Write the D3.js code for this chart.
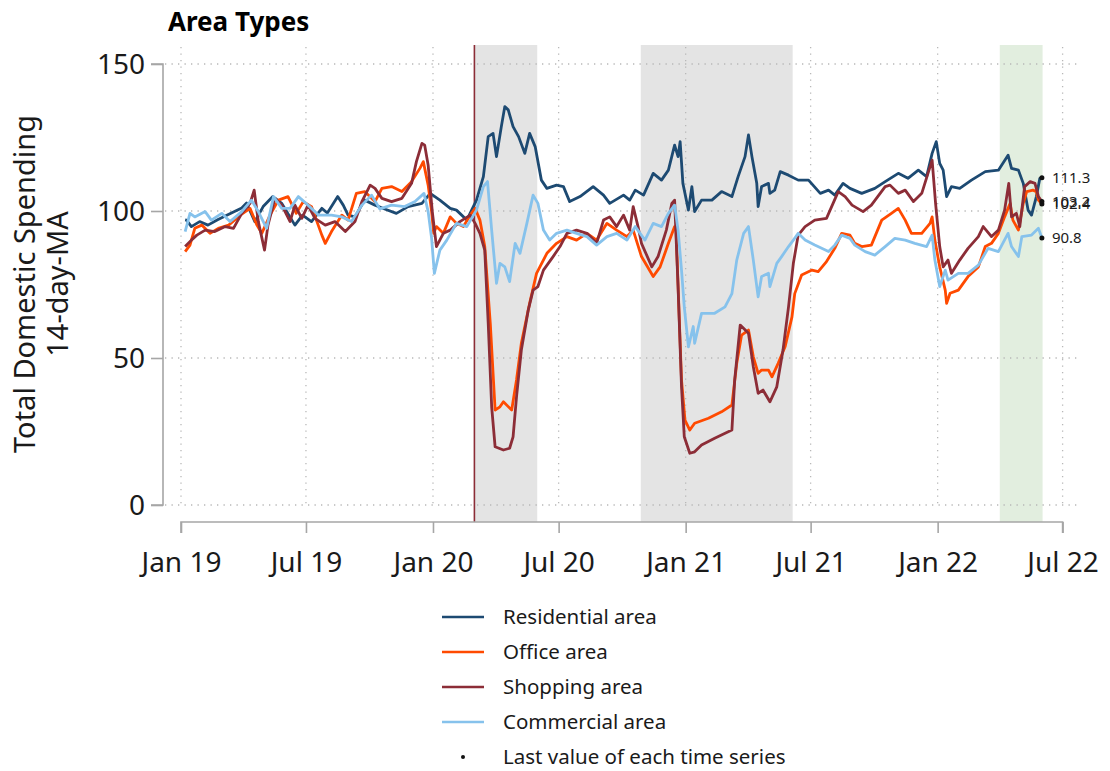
<!DOCTYPE html>
<html>
<head>
<meta charset="utf-8">
<script src="https://cdn.jsdelivr.net/npm/d3@7"></script>
<style>
  html, body { margin: 0; padding: 0; background: #fff; }
  svg { display: block; font-family: "Noto Sans", "Open Sans", sans-serif; }
</style>
</head>
<body>
<svg id="chart" width="1110" height="771"></svg>
<script>
// Total domestic spending by area type, 14-day moving average (index)
const seriesNames = ["Residential area", "Office area", "Shopping area", "Commercial area"];
const seriesColors = ["#1d4a72", "#ff4a00", "#8c2d37", "#86c2ec"];

const residential = [
  ["2019-01-07",97.0],["2019-01-09",96.9],["2019-01-16",94.7],["2019-01-28",96.4],["2019-02-09",95.2],["2019-02-23",97.0],
  ["2019-03-15",99.3],["2019-03-30",101.0],["2019-04-06",102.7],["2019-04-18",96.4],["2019-04-30",101.5],["2019-05-14",104.9],
  ["2019-05-27",102.6],["2019-06-15",95.2],["2019-06-26",98.6],["2019-07-09",96.4],["2019-07-24",100.9],["2019-08-01",99.3],
  ["2019-08-16",104.9],["2019-08-24",102.0],["2019-08-31",98.6],["2019-09-10",98.0],["2019-09-24",103.7],["2019-10-09",102.0],
  ["2019-10-23",100.7],["2019-11-09",99.2],["2019-11-26",101.5],["2019-12-16",102.6],["2019-12-28",106.0],["2020-01-11",103.7],
  ["2020-01-26",100.9],["2020-02-04",100.3],["2020-02-19",96.9],["2020-03-04",103.7],["2020-03-14",111.7],["2020-03-21",125.3],
  ["2020-03-28",126.4],["2020-04-02",118.5],["2020-04-09",128.7],["2020-04-14",135.5],["2020-04-19",134.4],["2020-04-26",128.7],
  ["2020-05-04",125.3],["2020-05-13",119.6],["2020-05-20",126.4],["2020-05-28",121.9],["2020-06-06",110.5],["2020-06-14",107.7],
  ["2020-06-28",108.8],["2020-07-08",108.3],["2020-07-17",103.2],["2020-08-01",104.9],["2020-08-20",108.3],["2020-09-04",105.4],
  ["2020-09-13",102.6],["2020-10-03",105.4],["2020-10-12",103.7],["2020-10-20",107.1],["2020-11-01",105.4],["2020-11-15",112.8],
  ["2020-11-27",110.5],["2020-12-07",113.9],["2020-12-16",122.4],["2020-12-21",118.5],["2020-12-24",123.6],["2020-12-28",109.4],
  ["2021-01-05",100.3],["2021-01-10",108.3],["2021-01-14",99.8],["2021-01-24",103.7],["2021-02-08",103.7],["2021-02-22",106.6],
  ["2021-03-09",104.9],["2021-03-18",111.7],["2021-03-28",118.5],["2021-04-02",125.9],["2021-04-07",118.5],["2021-04-14",109.4],
  ["2021-04-16",101.5],["2021-04-21",108.3],["2021-05-01",109.4],["2021-05-03",106.0],["2021-05-10",107.1],["2021-05-18",113.4],
  ["2021-05-30",112.2],["2021-06-13",110.5],["2021-06-28",110.5],["2021-07-15",106.0],["2021-07-27",107.1],["2021-08-05",105.4],
  ["2021-08-17",109.4],["2021-08-27",107.7],["2021-09-13",106.0],["2021-10-02",107.7],["2021-10-17",110.0],["2021-11-05",112.8],
  ["2021-11-19",111.1],["2021-12-04",113.9],["2021-12-16",111.7],["2021-12-24",119.6],["2021-12-30",123.6],["2022-01-04",116.2],
  ["2022-01-09",113.9],["2022-01-14",104.9],["2022-01-21",108.3],["2022-02-02",107.7],["2022-02-19",110.5],["2022-03-11",113.4],
  ["2022-03-30",113.9],["2022-04-13",119.0],["2022-04-18",114.5],["2022-04-28",113.9],["2022-05-05",109.4],["2022-05-12",100.3],
  ["2022-05-17",98.6],["2022-05-24",104.9],["2022-05-29",111.1],["2022-06-01",111.3]
];

const office = [
  ["2019-01-07",86.2],["2019-01-14",88.4],["2019-01-21",94.1],["2019-01-31",95.2],["2019-02-12",92.4],["2019-02-24",94.1],
  ["2019-03-11",95.2],["2019-03-28",98.6],["2019-04-11",100.9],["2019-04-21",95.2],["2019-04-28",92.4],["2019-05-10",98.6],
  ["2019-05-22",103.7],["2019-06-05",104.9],["2019-06-17",99.2],["2019-06-27",103.2],["2019-07-09",101.5],["2019-07-24",91.8],
  ["2019-07-29",89.0],["2019-08-07",93.0],["2019-08-22",98.6],["2019-08-31",96.9],["2019-09-12",106.0],["2019-09-24",106.6],
  ["2019-10-09",103.2],["2019-10-19",107.7],["2019-11-02",108.3],["2019-11-17",106.6],["2019-12-01",110.0],["2019-12-13",114.5],
  ["2019-12-18",116.8],["2019-12-25",108.8],["2019-12-30",99.8],["2020-01-02",92.4],["2020-01-06",94.7],["2020-01-16",92.4],
  ["2020-01-26",98.0],["2020-02-04",95.8],["2020-02-14",94.7],["2020-02-24",98.6],["2020-03-02",100.9],["2020-03-09",96.9],
  ["2020-03-16",87.9],["2020-03-24",61.8],["2020-03-31",32.3],["2020-04-07",33.4],["2020-04-12",35.1],["2020-04-24",32.3],
  ["2020-05-01",42.5],["2020-05-08",55.0],["2020-05-20",68.6],["2020-05-30",78.8],["2020-06-14",85.6],["2020-06-28",89.0],
  ["2020-07-13",91.3],["2020-07-27",90.1],["2020-08-11",92.4],["2020-08-25",90.1],["2020-09-09",95.8],["2020-09-23",93.5],
  ["2020-10-08",91.3],["2020-10-17",93.5],["2020-10-29",84.5],["2020-11-15",77.7],["2020-11-25",81.0],["2020-12-07",89.0],
  ["2020-12-16",94.7],["2020-12-18",94.0],["2020-12-26",42.5],["2020-12-31",28.9],["2021-01-07",25.5],["2021-01-14",27.8],
  ["2021-02-03",29.5],["2021-02-22",31.7],["2021-03-09",34.0],["2021-03-16",48.2],["2021-03-23",57.8],["2021-04-02",59.5],
  ["2021-04-09",50.4],["2021-04-16",44.8],["2021-04-21",45.9],["2021-05-01",45.9],["2021-05-06",43.6],["2021-05-15",48.2],
  ["2021-05-25",53.8],["2021-06-04",64.0],["2021-06-08",71.9],["2021-06-18",78.2],["2021-07-03",79.9],["2021-07-12",79.4],
  ["2021-07-24",82.8],["2021-08-05",87.3],["2021-08-15",92.4],["2021-08-27",91.8],["2021-09-03",89.0],["2021-09-13",87.9],
  ["2021-09-27",88.4],["2021-10-12",96.9],["2021-10-26",99.2],["2021-11-05",100.9],["2021-11-15",96.9],["2021-11-24",92.4],
  ["2021-12-09",92.4],["2021-12-21",95.8],["2021-12-24",98.0],["2021-12-28",90.1],["2022-01-04",81.0],["2022-01-12",73.1],
  ["2022-01-14",68.6],["2022-01-19",72.0],["2022-01-31",73.1],["2022-02-14",77.7],["2022-03-01",81.0],["2022-03-11",87.9],
  ["2022-03-20",89.0],["2022-03-30",92.4],["2022-04-08",98.0],["2022-04-16",102.6],["2022-04-20",96.9],["2022-04-28",93.5],
  ["2022-05-05",102.6],["2022-05-10",106.6],["2022-05-19",107.1],["2022-05-24",106.6],["2022-05-27",103.7],["2022-06-01",102.4]
];

const shopping = [
  ["2019-01-07",87.9],["2019-01-16",90.1],["2019-01-24",91.8],["2019-02-05",93.5],["2019-02-19",93.0],["2019-03-06",94.7],
  ["2019-03-18",94.1],["2019-03-30",99.2],["2019-04-11",102.6],["2019-04-17",107.1],["2019-04-23",96.4],["2019-05-02",86.7],
  ["2019-05-07",95.2],["2019-05-17",104.3],["2019-05-27",102.0],["2019-06-08",96.4],["2019-06-15",102.0],["2019-06-25",97.5],
  ["2019-07-04",102.0],["2019-07-14",97.5],["2019-07-29",95.2],["2019-08-12",96.4],["2019-08-27",93.0],["2019-09-10",96.4],
  ["2019-09-20",103.2],["2019-10-02",108.8],["2019-10-09",107.7],["2019-10-19",104.3],["2019-11-02",103.2],["2019-11-17",104.3],
  ["2019-12-01",109.4],["2019-12-08",116.8],["2019-12-16",123.0],["2019-12-20",122.4],["2019-12-25",115.6],["2019-12-31",99.8],
  ["2020-01-06",87.9],["2020-01-16",92.4],["2020-01-26",93.5],["2020-02-09",96.4],["2020-02-24",98.6],["2020-03-02",95.8],
  ["2020-03-09",92.4],["2020-03-16",86.7],["2020-03-21",61.8],["2020-03-26",33.4],["2020-03-31",19.8],["2020-04-12",18.7],
  ["2020-04-21",19.3],["2020-04-26",23.2],["2020-05-01",36.8],["2020-05-08",52.7],["2020-05-18",66.3],["2020-05-25",73.1],
  ["2020-06-01",74.3],["2020-06-09",79.9],["2020-06-23",84.5],["2020-07-03",87.9],["2020-07-13",92.4],["2020-07-27",93.5],
  ["2020-08-11",92.4],["2020-08-25",89.0],["2020-09-04",96.9],["2020-09-13",98.0],["2020-09-23",94.7],["2020-10-03",98.6],
  ["2020-10-12",93.5],["2020-10-17",101.5],["2020-10-24",94.7],["2020-10-29",89.0],["2020-11-13",81.0],["2020-11-22",84.5],
  ["2020-12-04",93.5],["2020-12-12",102.6],["2020-12-16",103.7],["2020-12-21",74.3],["2020-12-26",40.2],["2020-12-30",23.2],
  ["2021-01-07",17.6],["2021-01-14",18.1],["2021-01-24",20.4],["2021-02-12",22.7],["2021-03-09",25.5],["2021-03-13",42.5],
  ["2021-03-21",61.2],["2021-04-02",58.4],["2021-04-09",47.0],["2021-04-16",38.0],["2021-04-23",39.1],["2021-05-03",35.1],
  ["2021-05-13",40.2],["2021-05-22",52.7],["2021-05-30",67.4],["2021-06-06",82.2],["2021-06-13",91.8],["2021-06-23",94.7],
  ["2021-07-07",96.9],["2021-07-24",97.5],["2021-08-10",106.6],["2021-08-20",104.9],["2021-08-30",102.0],["2021-09-15",99.8],
  ["2021-09-27",102.0],["2021-10-17",108.3],["2021-10-24",108.8],["2021-11-05",106.0],["2021-11-15",107.1],["2021-11-27",103.2],
  ["2021-12-09",106.0],["2021-12-18",112.8],["2021-12-24",117.3],["2021-12-29",102.6],["2022-01-04",87.9],["2022-01-09",81.0],
  ["2022-01-16",83.3],["2022-01-21",78.8],["2022-02-02",83.3],["2022-02-14",87.3],["2022-03-01",91.3],["2022-03-08",94.7],
  ["2022-03-20",91.3],["2022-03-30",93.5],["2022-04-08",100.3],["2022-04-14",109.4],["2022-04-18",98.0],["2022-04-25",99.2],
  ["2022-04-30",94.7],["2022-05-07",108.3],["2022-05-15",110.0],["2022-05-22",109.4],["2022-05-27",104.9],["2022-06-01",103.2]
];

const commercial = [
  ["2019-01-07",93.0],["2019-01-14",99.2],["2019-01-21",98.0],["2019-02-05",99.8],["2019-02-14",96.9],["2019-03-01",99.2],
  ["2019-03-13",96.4],["2019-03-30",99.8],["2019-04-13",103.7],["2019-04-23",99.8],["2019-05-05",94.1],["2019-05-15",104.9],
  ["2019-05-27",100.9],["2019-06-08",100.9],["2019-06-20",104.9],["2019-07-04",102.0],["2019-07-19",98.6],["2019-08-07",98.6],
  ["2019-08-22",98.0],["2019-09-05",96.4],["2019-09-20",102.0],["2019-10-04",105.4],["2019-10-16",100.7],["2019-11-02",102.0],
  ["2019-11-21",101.5],["2019-12-06",103.2],["2019-12-19",106.0],["2019-12-25",99.8],["2019-12-30",90.7],["2020-01-03",78.8],
  ["2020-01-11",86.7],["2020-01-21",90.1],["2020-02-04",95.8],["2020-02-19",94.7],["2020-03-04",100.3],["2020-03-14",108.3],
  ["2020-03-20",110.0],["2020-03-26",93.5],["2020-04-02",75.4],["2020-04-07",82.2],["2020-04-14",81.0],["2020-04-21",76.0],
  ["2020-04-29",89.0],["2020-05-06",85.6],["2020-05-16",95.8],["2020-05-25",105.4],["2020-06-01",102.6],["2020-06-09",93.5],
  ["2020-06-18",90.1],["2020-06-28",92.4],["2020-07-13",93.5],["2020-07-27",92.4],["2020-08-11",91.3],["2020-08-25",88.4],
  ["2020-09-09",91.3],["2020-09-23",92.4],["2020-10-08",90.1],["2020-10-20",94.7],["2020-11-03",90.1],["2020-11-15",95.8],
  ["2020-11-27",94.7],["2020-12-07",99.2],["2020-12-16",102.0],["2020-12-21",93.5],["2020-12-26",79.9],["2020-12-30",67.4],
  ["2021-01-05",53.8],["2021-01-12",60.7],["2021-01-14",55.0],["2021-01-24",65.2],["2021-02-12",65.2],["2021-02-27",67.4],
  ["2021-03-09",71.9],["2021-03-16",83.3],["2021-03-26",92.4],["2021-04-02",94.7],["2021-04-09",83.3],["2021-04-16",70.8],
  ["2021-04-21",77.7],["2021-05-01",78.8],["2021-05-03",74.3],["2021-05-13",82.2],["2021-05-20",84.5],["2021-05-30",87.9],
  ["2021-06-06",90.1],["2021-06-13",92.4],["2021-06-23",90.1],["2021-07-07",88.4],["2021-07-27",86.2],["2021-08-05",88.4],
  ["2021-08-15",91.8],["2021-08-27",90.7],["2021-09-03",88.4],["2021-09-18",86.2],["2021-10-02",85.0],["2021-10-17",87.9],
  ["2021-10-31",90.7],["2021-11-15",90.1],["2021-11-29",89.0],["2021-12-16",87.9],["2021-12-24",91.8],["2021-12-28",83.3],
  ["2022-01-04",74.3],["2022-01-12",79.9],["2022-01-16",76.5],["2022-01-31",78.8],["2022-02-14",78.8],["2022-03-01",81.6],
  ["2022-03-15",87.3],["2022-03-30",86.2],["2022-04-13",92.4],["2022-04-18",87.9],["2022-04-28",84.5],["2022-05-03",91.3],
  ["2022-05-17",91.8],["2022-05-27",94.1],["2022-06-01",90.8]
];

// Shaded periods and event marker
const greyPeriods = [["2020-03-01", "2020-05-31"], ["2020-10-28", "2021-06-05"]];
const greenPeriods = [["2022-04-01", "2022-06-02"]];
const eventDate = "2020-03-01";

const xTickDates = ["2019-01-01","2019-07-01","2020-01-01","2020-07-01","2021-01-01","2021-07-01","2022-01-01","2022-07-01"];
const yTickValues = [0, 50, 100, 150];

const parse = d3.timeParse("%Y-%m-%d");
const svg = d3.select("#chart");
const fontFamily = "'Noto Sans', 'Open Sans', sans-serif";

const x = d3.scaleTime()
  .domain([parse("2019-01-01"), parse("2022-07-01")])
  .range([181, 1062.6]);
const y = d3.scaleLinear().domain([0, 150]).range([505, 64]);

const plotTop = 45, axisY = 522, yAxisX = 163;

// shaded bands
svg.append("g").selectAll("rect").data(greyPeriods).join("rect")
  .attr("x", d => x(parse(d[0]))).attr("y", plotTop)
  .attr("width", d => x(parse(d[1])) - x(parse(d[0])))
  .attr("height", axisY - plotTop)
  .attr("fill", "#e4e4e4");
svg.append("g").selectAll("rect").data(greenPeriods).join("rect")
  .attr("x", d => x(parse(d[0]))).attr("y", plotTop)
  .attr("width", d => x(parse(d[1])) - x(parse(d[0])))
  .attr("height", axisY - plotTop)
  .attr("fill", "#e2eedf");

// dotted grid
const grid = svg.append("g").attr("stroke", "#b8b8b8").attr("stroke-width", 1.3)
  .attr("stroke-dasharray", "1.3,5.2");
grid.selectAll(".h").data(yTickValues).join("line")
  .attr("x1", yAxisX + 2).attr("x2", 1080)
  .attr("y1", d => y(d)).attr("y2", d => y(d));
grid.selectAll(".v").data(xTickDates.map(parse)).join("line")
  .attr("x1", d => x(d)).attr("x2", d => x(d))
  .attr("y1", plotTop + 2).attr("y2", y(0));

// event line
svg.append("line")
  .attr("x1", x(parse(eventDate))).attr("x2", x(parse(eventDate)))
  .attr("y1", plotTop).attr("y2", axisY)
  .attr("stroke", "#8c2d37").attr("stroke-width", 1.6);

// axes
const yAxis = d3.axisLeft(y).tickValues(yTickValues).tickSize(12).tickPadding(6);
const yG = svg.append("g").attr("transform", `translate(${yAxisX},0)`).call(yAxis);
const xAxis = d3.axisBottom(x).tickValues(xTickDates.map(parse)).tickSize(11).tickPadding(19)
  .tickFormat(d3.timeFormat("%b %y"));
const xG = svg.append("g").attr("transform", `translate(0,${axisY})`).call(xAxis);
[yG, xG].forEach(g => {
  g.select(".domain").attr("stroke", "#a6a6a6").attr("stroke-width", 1.6);
  g.selectAll(".tick line").attr("stroke", "#a6a6a6").attr("stroke-width", 1.6);
  g.selectAll("text").attr("fill", "#1a1a1a").style("font-size", "28px")
    .style("font-family", fontFamily);
});
yG.select(".domain").attr("d", `M-12,${y(150)}H0V${y(0)}H-12`);
xG.select(".domain").attr("d", `M${x(parse(xTickDates[0]))},11V0H${x(parse(xTickDates[xTickDates.length-1]))}V11`);
yG.selectAll("text").attr("dy", "0.35em");

// lines
const all = [residential, office, shopping, commercial];
const line = d3.line().x(d => x(parse(d[0]))).y(d => y(d[1]));
svg.append("g").selectAll("path").data(all).join("path")
  .attr("d", line)
  .attr("fill", "none")
  .attr("stroke", (d, i) => seriesColors[i])
  .attr("stroke-width", 2.8)
  .attr("stroke-linejoin", "round");

// last-value markers and labels
const lasts = all.map(s => s[s.length - 1]);
svg.append("g").selectAll("circle").data(lasts).join("circle")
  .attr("cx", d => x(parse(d[0]))).attr("cy", d => y(d[1])).attr("r", 2.5).attr("fill", "#111");
svg.append("g").selectAll("text").data(lasts).join("text")
  .attr("x", d => x(parse(d[0])) + 10).attr("y", d => y(d[1]))
  .attr("dy", "0.35em")
  .style("font-size", "15px").attr("fill", "#1a1a1a")
  .text(d => d[1].toFixed(1));

// title
svg.append("text").attr("x", 168).attr("y", 31)
  .style("font-size", "26px").style("font-weight", "bold").attr("fill", "#000")
  .text("Area Types");

// y axis title
const yt = svg.append("text").attr("transform", "translate(0,284) rotate(-90)")
  .attr("text-anchor", "middle").style("font-size", "29px").attr("fill", "#1a1a1a");
yt.append("tspan").attr("x", 0).attr("y", 35).text("Total Domestic Spending");
yt.append("tspan").attr("x", 0).attr("y", 68).text("14-day-MA");

// legend
const legendItems = seriesNames.map((n, i) => ({ name: n, color: seriesColors[i] }));
const lg = svg.append("g");
legendItems.forEach((d, i) => {
  const cy = 617 + i * 35;
  lg.append("line").attr("x1", 442).attr("x2", 484).attr("y1", cy).attr("y2", cy)
    .attr("stroke", d.color).attr("stroke-width", 2.6);
  lg.append("text").attr("x", 503).attr("y", cy).attr("dy", "0.35em")
    .style("font-size", "20.5px").attr("fill", "#1a1a1a").text(d.name);
});
lg.append("circle").attr("cx", 463).attr("cy", 617 + 4 * 35).attr("r", 2).attr("fill", "#111");
lg.append("text").attr("x", 503).attr("y", 617 + 4 * 35).attr("dy", "0.35em")
  .style("font-size", "20.5px").attr("fill", "#1a1a1a").text("Last value of each time series");
</script>
</body>
</html>
